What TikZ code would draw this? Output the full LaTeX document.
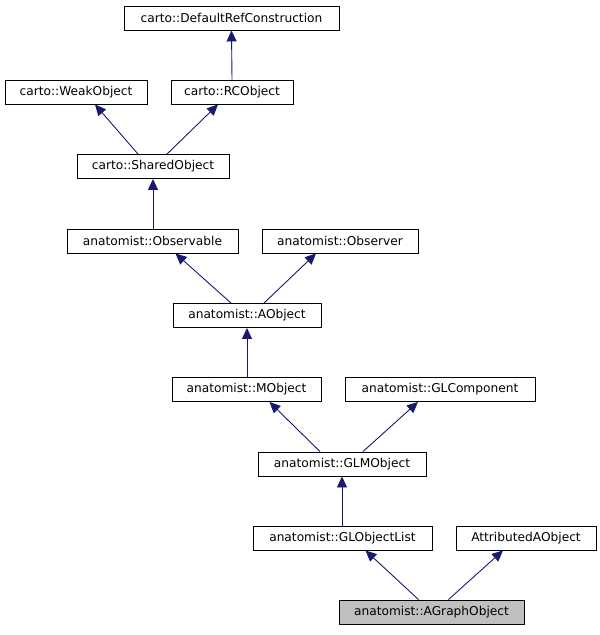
\documentclass[tikz,border=0pt]{standalone}
\usepackage{fontspec}
\setmainfont{DejaVu Sans}
\usetikzlibrary{arrows.meta,calc}
\definecolor{edgeblue}{HTML}{191970}
\tikzset{
  cls/.style={draw=black, line width=0.9pt, fill=white, minimum height=24pt, inner sep=0pt, font=\fontsize{12.2}{14}\selectfont},
  cur/.style={cls, fill=black!25},
  inh/.style={draw=edgeblue, line width=0.9pt, {Triangle[length=11pt,width=10pt,fill=edgeblue]}-}
}
\begin{document}
\begin{tikzpicture}[x=1pt,y=-1pt]
\useasboundingbox (0,0) rectangle (600,635);
\node[cls, minimum width=215pt] (drc) at (231.5,18) {carto::DefaultRefConstruction};
\node[cls, minimum width=142pt] (weak) at (76,92) {carto::WeakObject};
\node[cls, minimum width=122pt] (rc) at (232,92) {carto::RCObject};
\node[cls, minimum width=152pt] (shared) at (153,166.5) {carto::SharedObject};
\node[cls, minimum width=171pt] (obsable) at (152.5,241) {anatomist::Observable};
\node[cls, minimum width=156pt] (obser) at (340,241) {anatomist::Observer};
\node[cls, minimum width=148pt] (aobj) at (247,315.5) {anatomist::AObject};
\node[cls, minimum width=149pt] (mobj) at (246.5,389.5) {anatomist::MObject};
\node[cls, minimum width=190pt] (glc) at (440,389.5) {anatomist::GLComponent};
\node[cls, minimum width=168pt] (glm) at (342,464) {anatomist::GLMObject};
\node[cls, minimum width=179pt] (gll) at (342.5,538) {anatomist::GLObjectList};
\node[cls, minimum width=140pt] (attr) at (526,538) {AttributedAObject};
\node[cur, minimum width=185pt] (agraph) at (431.5,612) {anatomist::AGraphObject};

\draw[inh] (drc.south) -- (rc.north);
\draw[inh] ($(weak.south)+(19,0)$) -- ($(shared.north)+(-15,0)$);
\draw[inh] ($(rc.south)+(-14,0)$) -- ($(shared.north)+(14,0)$);
\draw[inh] (shared.south) -- (obsable.north -| shared.south);
\draw[inh] ($(obsable.south)+(23,0)$) -- ($(aobj.north)+(-16,0)$);
\draw[inh] ($(obser.south)+(-24,0)$) -- ($(aobj.north)+(17,0)$);
\draw[inh] (aobj.south) -- (mobj.north -| aobj.south);
\draw[inh] ($(mobj.south)+(23,0)$) -- ($(glm.north)+(-22,0)$);
\draw[inh] ($(glc.south)+(-22,0)$) -- ($(glm.north)+(21,0)$);
\draw[inh] (glm.south) -- (gll.north -| glm.south);
\draw[inh] ($(gll.south)+(23,0)$) -- ($(agraph.north)+(-13,0)$);
\draw[inh] ($(attr.south)+(-23,0)$) -- ($(agraph.north)+(17,0)$);
\end{tikzpicture}
\end{document}
